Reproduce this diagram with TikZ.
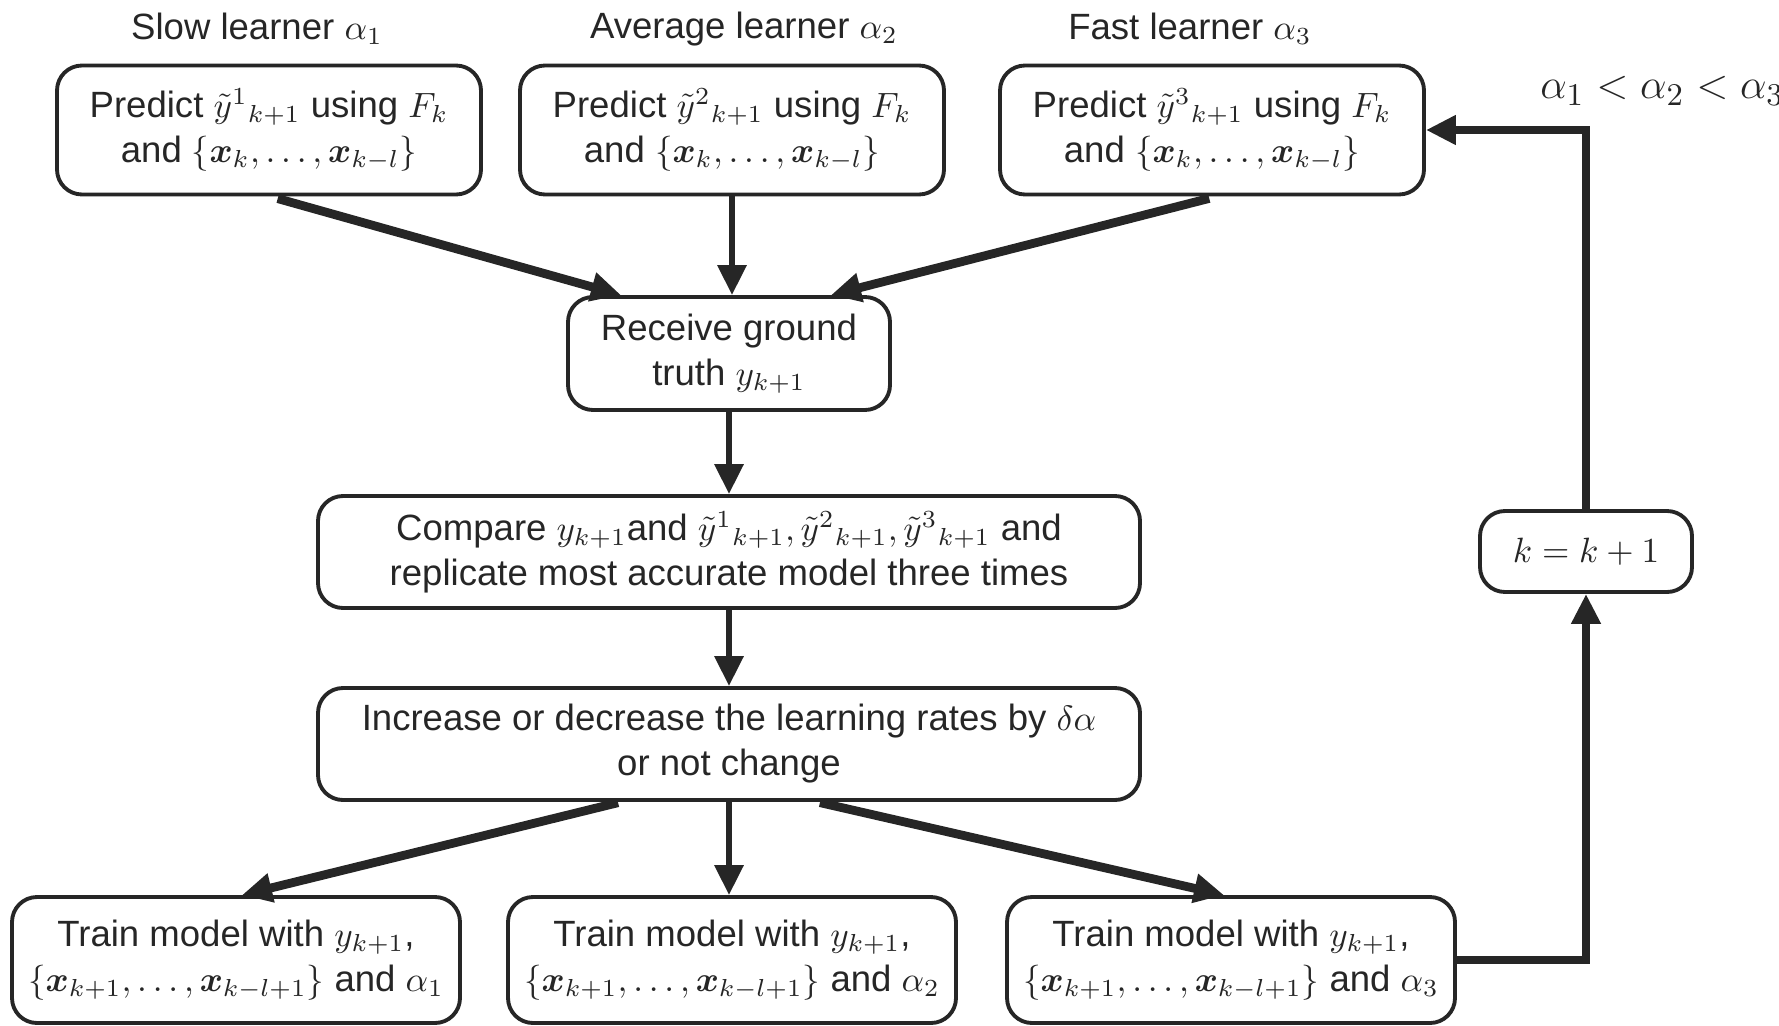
\documentclass[tikz,border=0pt]{standalone}
\usepackage{amsmath}
\usepackage{fontspec}
\setmainfont{Liberation Sans}
\usetikzlibrary{arrows.meta}

\begin{document}
\begin{tikzpicture}[
    font=\fontsize{10.4}{12.8}\selectfont,
    box/.style={draw=black!85, line width=1.1pt, rounded corners=2.5mm, align=center, text=black!85, inner sep=2pt},
    predbox/.style={box, minimum width=4.24cm, minimum height=1.29cm},
    widebox/.style={box, minimum width=8.22cm, minimum height=1.12cm},
    trainbox/.style={box, minimum width=4.48cm, minimum height=1.26cm},
    flow/.style={-{Triangle[length=3mm,width=2.8mm]}, line width=2.5pt, draw=black!85},
    vflow/.style={flow, line width=1.8pt},
    lbl/.style={text=black!85}
]
\useasboundingbox (0,0) rectangle (17.79,-10.25);

% Learners
\node[predbox] (pred1) at (2.69,-1.30) {Predict $\tilde{y}^{1}{}_{k+1}$ using $F_k$\\and $\{\boldsymbol{x}_k,\dots,\boldsymbol{x}_{k-l}\}$};
\node[predbox] (pred2) at (7.32,-1.30) {Predict $\tilde{y}^{2}{}_{k+1}$ using $F_k$\\and $\{\boldsymbol{x}_k,\dots,\boldsymbol{x}_{k-l}\}$};
\node[predbox] (pred3) at (12.12,-1.30) {Predict $\tilde{y}^{3}{}_{k+1}$ using $F_k$\\and $\{\boldsymbol{x}_k,\dots,\boldsymbol{x}_{k-l}\}$};

\node[lbl] (slowlbl) at (2.57,-0.29) {Slow learner $\alpha_1$};
\node[lbl] (avglbl) at (7.44,-0.29) {Average learner $\alpha_2$};
\node[lbl] (fastlbl) at (11.90,-0.29) {Fast learner $\alpha_3$};
\node[lbl, anchor=west, font=\fontsize{12.5}{15}\selectfont] (order) at (15.28,-0.91) {$\alpha_1<\alpha_2<\alpha_3$};

% Middle column
\node[box, minimum width=3.22cm, minimum height=1.13cm] (recv) at (7.29,-3.535) {Receive ground\\truth $y_{k+1}$};
\node[widebox] (comp) at (7.29,-5.52) {Compare $y_{k+1}$and $\tilde{y}^{1}{}_{k+1}, \tilde{y}^{2}{}_{k+1}, \tilde{y}^{3}{}_{k+1}$ and\\replicate most accurate model three times};
\node[widebox] (incr) at (7.29,-7.44) {Increase or decrease the learning rates by $\delta\alpha$\\or not change};

% Training
\node[trainbox] (train1) at (2.36,-9.60) {Train model with $y_{k+1}$,\\$\{\boldsymbol{x}_{k+1},\dots,\boldsymbol{x}_{k-l+1}\}$ and $\alpha_1$};
\node[trainbox] (train2) at (7.32,-9.60) {Train model with $y_{k+1}$,\\$\{\boldsymbol{x}_{k+1},\dots,\boldsymbol{x}_{k-l+1}\}$ and $\alpha_2$};
\node[trainbox] (train3) at (12.31,-9.60) {Train model with $y_{k+1}$,\\$\{\boldsymbol{x}_{k+1},\dots,\boldsymbol{x}_{k-l+1}\}$ and $\alpha_3$};

% Counter
\node[box, minimum width=2.12cm, minimum height=0.81cm] (kbox) at (15.86,-5.515) {$k=k+1$};

% Arrows
\draw[flow, shorten <=0.8mm] ([xshift=0.01cm]pred1.south) -- ([xshift=-1.08cm]recv.north);
\draw[vflow] (pred2.south) -- (pred2.south |- recv.north);
\draw[flow, shorten <=0.8mm] ([xshift=0.05cm]pred3.south) -- ([xshift=1.02cm]recv.north);
\draw[vflow] (recv) -- (comp);
\draw[vflow] (comp) -- (incr);
\draw[flow, shorten <=0.3mm] ([xshift=-1.08cm]incr.south) -- ([xshift=0.06cm]train1.north);
\draw[vflow] (incr.south) -- (incr.south |- train2.north);
\draw[flow, shorten <=0.3mm] ([xshift=0.88cm]incr.south) -- ([xshift=-0.07cm]train3.north);

% Loop back
\draw[flow] (train3.east) -| (kbox.south);
\draw[flow] (kbox.north) |- (pred3.east);

\end{tikzpicture}
\end{document}
